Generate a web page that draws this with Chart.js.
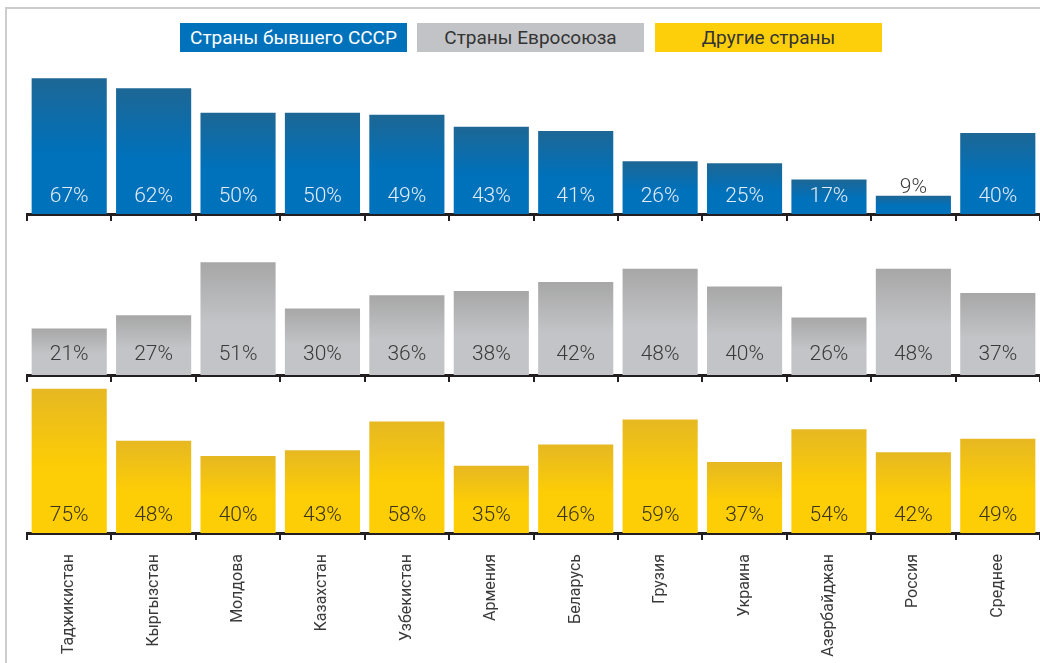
<!DOCTYPE html>
<html>
<head>
<meta charset="utf-8">
<script src="https://cdn.jsdelivr.net/npm/chart.js@4"></script>
<style>
body { margin: 0; width: 1040px; height: 663px; overflow: hidden; background: #fff; font-family: Roboto, sans-serif; }
#frame { position: absolute; left: 5px; top: 7px; width: 1100px; height: 700px; border: 2px solid #cccccc; box-sizing: border-box; }
.legend { position: absolute; top: 23px; height: 29px; width: 227px; line-height: 29px; text-align: center; font-size: 19px; }
.panel { position: absolute; left: 0; width: 1040px; }
</style>
</head>
<body>
<div id="frame"></div>
<div class="legend" style="left:180px; background:#0072bc; color:#fff;">Страны бывшего СССР</div>
<div class="legend" style="left:417px; background:#c2c3c6; color:#333;">Страны Евросоюза</div>
<div class="legend" style="left:655px; background:#fdcf0a; color:#333;">Другие страны</div>
<div class="panel" style="top:0; height:230px;"><canvas id="c1"></canvas></div>
<div class="panel" style="top:230px; height:160px;"><canvas id="c2"></canvas></div>
<div class="panel" style="top:385px; height:278px;"><canvas id="c3"></canvas></div>
<script>
const countries = ["Таджикистан", "Кыргызстан", "Молдова", "Казахстан", "Узбекистан", "Армения",
  "Беларусь", "Грузия", "Украина", "Азербайджан", "Россия", "Среднее"];
const ussr = [67, 62, 50, 50, 49, 43, 41, 26, 25, 17, 9, 40];
const eu = [21, 27, 51, 30, 36, 38, 42, 48, 40, 26, 48, 37];
const other = [75, 48, 40, 43, 58, 35, 46, 59, 37, 54, 42, 49];

function gradientFor(top, bottom) {
  return function(ctx) {
    const chart = ctx.chart;
    if (!chart.chartArea || ctx.type !== "data") return bottom;
    const y = chart.scales.y;
    const yTop = y.getPixelForValue(ctx.raw);
    const yBase = y.getPixelForValue(0);
    const g = chart.ctx.createLinearGradient(0, yTop, 0, yBase);
    g.addColorStop(0, top);
    g.addColorStop(0.55, bottom);
    g.addColorStop(1, bottom);
    return g;
  };
}

// percent labels near the bottom of each bar, above the bar if it is too short
const valueLabels = {
  id: "valueLabels",
  afterDatasetsDraw(chart, args, opts) {
    const ctx = chart.ctx;
    const meta = chart.getDatasetMeta(0);
    const data = chart.data.datasets[0].data;
    ctx.save();
    ctx.font = "300 21px Roboto";
    ctx.textAlign = "center";
    ctx.textBaseline = "middle";
    meta.data.forEach((bar, i) => {
      let y = bar.base - opts.offset;
      let color = opts.inside;
      if (bar.y > y - 14) {
        y = bar.y - 8;
        color = opts.outside;
      }
      ctx.fillStyle = color;
      ctx.fillText(data[i] + "%", bar.x, y);
    });
    ctx.restore();
  }
};

function makeChart(id, values, top, bottom, yMax, padTop, axisH, showLabels, inside, offset) {
  return new Chart(document.getElementById(id), {
    type: "bar",
    data: {
      labels: countries,
      datasets: [{
        data: values,
        backgroundColor: gradientFor(top, bottom),
        categoryPercentage: 0.89,
        barPercentage: 1.0
      }]
    },
    options: {
      responsive: true,
      maintainAspectRatio: false,
      animation: false,
      layout: { padding: { left: 27, right: 0, top: padTop, bottom: 0 } },
      plugins: {
        legend: { display: false },
        tooltip: { enabled: false },
        valueLabels: { inside: inside, outside: "#3a3a3a", offset: offset }
      },
      scales: {
        y: { display: false, min: 0, max: yMax },
        x: {
          border: { display: true, width: 3, color: "#231f20" },
          grid: { offset: true, drawOnChartArea: false, drawTicks: true, tickLength: 7, lineWidth: 2, color: "#231f20" },
          ticks: {
            display: showLabels,
            autoSkip: false,
            minRotation: 90,
            maxRotation: 90,
            padding: 14,
            color: "#3a3a3a",
            font: { family: "Roboto", size: 16 }
          },
          afterFit(scale) { scale.height = axisH; }
        }
      }
    },
    plugins: [valueLabels]
  });
}

makeChart("c1", ussr, "#1d6795", "#0071bb", 76, 60, 16, false, "#e4edf5", 17);
makeChart("c2", eu, "#a7a7a7", "#c3c4c7", 61, 10, 15, false, "#3a3a3a", 20);
makeChart("c3", other, "#e6b822", "#fdcd05", 77, 0, 130, true, "#3a3320", 17);
</script>
</body>
</html>
